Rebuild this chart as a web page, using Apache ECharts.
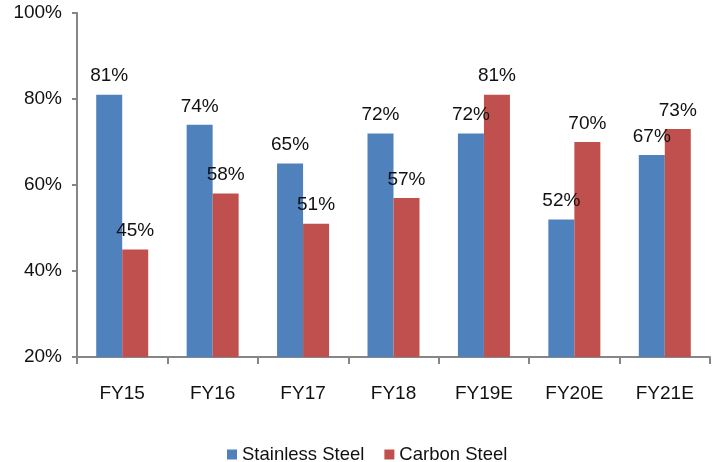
<!DOCTYPE html>
<html>
<head>
<meta charset="utf-8">
<script src="https://cdn.jsdelivr.net/npm/echarts@6/dist/echarts.min.js"></script>
<style>
  html, body { margin: 0; padding: 0; background: #fff; }
  #chart { width: 719px; height: 462px; }
</style>
</head>
<body>
<div id="chart"></div>
<script>
// Fiscal years on the category axis
const categories = ['FY15', 'FY16', 'FY17', 'FY18', 'FY19E', 'FY20E', 'FY21E'];
// Utilisation, percent
const stainlessSteel = [81, 74, 65, 72, 72, 52, 67];
const carbonSteel = [45, 58, 51, 57, 81, 70, 73];
const seriesNames = ['Stainless Steel', 'Carbon Steel'];
// Value axis range and step
const yMin = 20, yMax = 100, yStep = 20;

const FONT = 'Liberation Sans, Arial, sans-serif';
const axisGray = '#868686';
const textColor = '#111';

const labelStyle = {
  show: true,
  position: 'top',
  distance: 9,
  formatter: p => p.value + '%',
  fontFamily: FONT,
  fontSize: 19,
  color: textColor
};

const chart = echarts.init(document.getElementById('chart'), null, { renderer: 'canvas' });
chart.setOption({
  animation: false,
  backgroundColor: '#fff',
  grid: { left: 77, right: 9, top: 13, bottom: 105, containLabel: false },
  legend: {
    top: 440,
    left: 222,
    itemWidth: 10,
    itemHeight: 10,
    itemGap: 20,
    icon: 'rect',
    textStyle: { fontFamily: FONT, fontSize: 18.5, color: textColor },
    data: seriesNames
  },
  xAxis: {
    type: 'category',
    data: categories,
    axisLine: { lineStyle: { color: axisGray, width: 2 } },
    axisTick: { show: true, length: 7, alignWithLabel: false, lineStyle: { color: axisGray, width: 2 } },
    axisLabel: { margin: 27, fontFamily: FONT, fontSize: 19, color: textColor }
  },
  yAxis: {
    type: 'value',
    min: yMin,
    max: yMax,
    interval: yStep,
    axisLine: { show: true, lineStyle: { color: axisGray, width: 2 } },
    axisTick: { show: true, length: 5, lineStyle: { color: axisGray, width: 2 } },
    splitLine: { show: false },
    axisLabel: { margin: 15, fontFamily: FONT, fontSize: 19, color: textColor, formatter: v => v + '%' }
  },
  series: [
    {
      name: seriesNames[0],
      type: 'bar',
      data: stainlessSteel,
      barWidth: 26,
      barGap: '0%',
      itemStyle: { color: '#4F81BD' },
      label: labelStyle
    },
    {
      name: seriesNames[1],
      type: 'bar',
      data: carbonSteel,
      barWidth: 26,
      barGap: '0%',
      itemStyle: { color: '#C0504D' },
      label: labelStyle
    }
  ]
});
</script>
</body>
</html>
